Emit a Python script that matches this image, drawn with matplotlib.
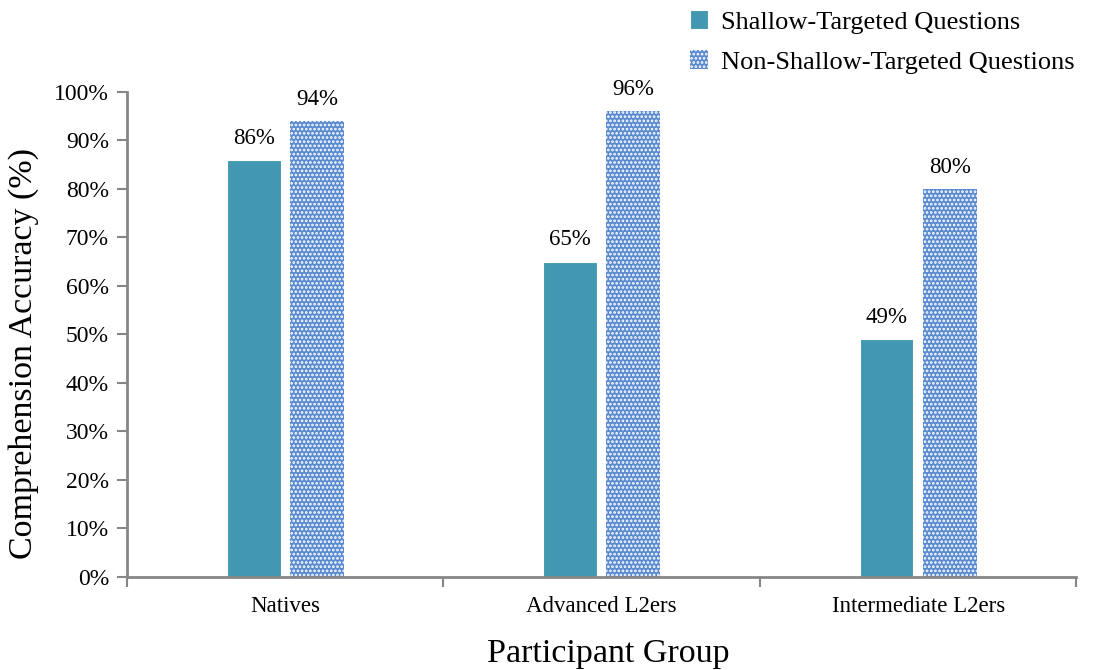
import numpy as np
import matplotlib.pyplot as plt

plt.rcParams['font.family'] = ['Liberation Serif', 'DejaVu Serif']
plt.rcParams['hatch.linewidth'] = 1.3

groups = ['Natives', 'Advanced L2ers', 'Intermediate L2ers']
shallow = [86, 65, 49]
non_shallow = [94, 96, 80]
series_names = ['Shallow-Targeted Questions', 'Non-Shallow-Targeted Questions']
y_ticks = [0, 10, 20, 30, 40, 50, 60, 70, 80, 90, 100]

teal = '#4298b0'
blue = '#5a8ad0'
grey = '#868686'

fig = plt.figure(figsize=(10.95, 6.7), dpi=100)
ax = fig.add_axes([0.116, 0.139, 0.867, 0.724])

x = np.arange(len(groups))
w = 0.17
b1 = ax.bar(x - 0.1, shallow, w, color=teal, edgecolor='white', linewidth=0.8,
            label=series_names[0])
b2 = ax.bar(x + 0.1, non_shallow, w, color=blue, edgecolor='white', linewidth=0,
            hatch='....', label=series_names[1])

for bars, vals in [(b1, shallow), (b2, non_shallow)]:
    for rect, v in zip(bars, vals):
        ax.annotate(f'{v}%', (rect.get_x() + rect.get_width() / 2, v),
                    xytext=(0, 8), textcoords='offset points',
                    ha='center', va='bottom', fontsize=16.5)

ax.set_xlim(-0.5, 2.5)
ax.set_ylim(0, 100)
ax.set_yticks(y_ticks)
ax.set_yticklabels([f'{t}%' for t in y_ticks], fontsize=17)

# category labels centred, ticks on the group boundaries
ax.set_xticks(x)
ax.set_xticklabels(groups, fontsize=16.5)
ax.tick_params(axis='x', length=0, pad=14)
ax.set_xticks(np.arange(-0.5, 3, 1), minor=True)
ax.tick_params(axis='x', which='minor', length=7, color=grey, width=1.5)
ax.tick_params(axis='y', length=7, color=grey, width=1.5, pad=6)

for s in ['top', 'right']:
    ax.spines[s].set_visible(False)
for s in ['left', 'bottom']:
    ax.spines[s].set_color(grey)
    ax.spines[s].set_linewidth(2)

ax.set_ylabel('Comprehension Accuracy (%)', fontsize=24.5, labelpad=11, y=0.46)
ax.set_xlabel('Participant Group', fontsize=24.5, labelpad=15, x=0.507)

fig.legend(loc='upper left', bbox_to_anchor=(0.608, 1.02), frameon=False,
           fontsize=19, handlelength=0.7, handleheight=0.7, handletextpad=0.5,
           labelspacing=0.62)

fig.savefig('out.png', dpi=100)
